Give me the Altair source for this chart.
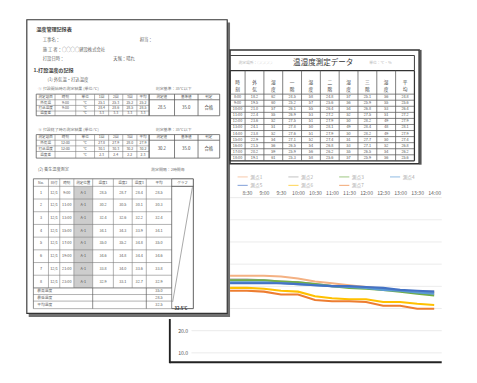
import altair as alt
import pandas as pd

FONT = "Noto Sans CJK JP"

# ====================== DATA ======================
# --- front sheet: temperature chart ---
hours = [7.0, 7.5, 8.0, 8.5, 9.0, 9.5, 10.0, 10.5, 11.0, 11.5, 12.0, 12.5, 13.0, 13.5, 14.0]
x_tick_labels = ["7:00", "7:30", "8:00", "8:30", "9:00", "9:30", "10:00", "10:30",
                 "11:00", "11:30", "12:00", "12:30", "13:00", "13:30", "14:00"]
y_tick_values = [10, 20, 30, 40, 50, 60, 70, 80]
series_names = ["測点1", "測点2", "測点3", "測点4", "測点5", "測点6", "測点7"]
series_colors = ["#F4B183", "#A5A5A5", "#70AD47", "#5B9BD5", "#4472C4", "#FFC000", "#ED7D31"]
temp_p1 = [44.8, 44.8, 44.8, 44.8, 44.8, 44.4, 43.5, 42.2, 41.4, 40.5, 39.7, 38.9, 38.0, 37.2, 36.7]
temp_p2 = [43.1, 43.1, 43.1, 43.1, 42.7, 42.2, 41.8, 41.0, 40.1, 39.7, 39.3, 38.9, 38.0, 37.6, 37.6]
temp_p3 = [42.7, 42.7, 42.7, 42.7, 42.7, 42.2, 41.8, 41.0, 40.1, 39.3, 38.9, 38.4, 37.6, 36.7, 35.9]
temp_p4 = [41.8, 41.8, 41.8, 41.8, 41.8, 41.4, 41.0, 40.5, 40.1, 39.7, 39.3, 38.4, 38.0, 37.2, 36.7]
temp_p5 = [41.4, 41.4, 41.4, 41.4, 41.4, 41.4, 41.0, 40.5, 40.1, 40.1, 39.7, 39.3, 38.4, 38.0, 37.6]
temp_p6 = [39.3, 39.3, 39.3, 39.3, 38.9, 38.0, 37.6, 35.5, 34.6, 34.2, 34.2, 32.9, 32.9, 32.1, 31.6]
temp_p7 = [38.0, 38.0, 38.0, 38.0, 37.6, 36.3, 36.3, 33.8, 33.3, 33.3, 32.9, 31.2, 31.2, 29.9, 29.9]

# --- back sheet: measurement table ---
table_title = "温湿度測定データ"
table_columns = ["時刻", "外気", "湿度", "一階", "湿度", "二階", "湿度", "三階", "湿度", "平均"]
table_times = ["8:00", "9:00", "10:00", "11:00", "12:00", "13:00", "14:00", "15:00", "16:00", "17:00", "18:00"]
table_values = [
    [18.2, 62, 24.5, 58, 24.8, 57, 25.1, 56, 24.8],
    [19.5, 60, 25.2, 57, 25.6, 56, 25.9, 55, 25.6],
    [21.0, 57, 26.1, 55, 26.4, 54, 26.8, 53, 26.4],
    [22.4, 55, 26.9, 53, 27.2, 52, 27.5, 51, 27.2],
    [23.6, 52, 27.5, 51, 27.9, 50, 28.2, 49, 27.9],
    [24.1, 51, 27.8, 50, 28.1, 49, 28.4, 48, 28.1],
    [23.8, 52, 27.6, 51, 27.9, 50, 28.2, 49, 27.9],
    [22.9, 54, 27.1, 52, 27.4, 51, 27.7, 50, 27.4],
    [21.5, 56, 26.5, 54, 26.8, 53, 27.1, 52, 26.8],
    [20.2, 59, 25.9, 56, 26.2, 55, 26.5, 54, 26.2],
    [19.1, 61, 25.3, 58, 25.6, 57, 25.9, 56, 25.6],
]

# --- left sheet: record form ---
form_title = "温度管理記録表"
form_section = "1.打設温度の記録"
t1_header = ["測定項目", "時刻", "単位", "1回", "2回", "3回", "平均"]
t1_rows = [["外気温", "9:00", "℃", "25.1", "25.3", "25.2", "25.2"],
           ["打込温度", "9:00", "℃", "28.4", "28.6", "28.5", "28.5"],
           ["温度差", "", "℃", "3.3", "3.3", "3.3", "3.3"]]
t2_rows = [["外気温", "12:00", "℃", "27.8", "27.9", "28.0", "27.9"],
           ["打込温度", "12:00", "℃", "30.1", "30.3", "30.2", "30.2"],
           ["温度差", "", "℃", "2.3", "2.4", "2.2", "2.3"]]
box_header = ["測定値", "基準値", "判定"]
t1_result = ["28.5", "35.0", "合格"]
t2_result = ["30.2", "35.0", "合格"]
t3_header = ["No.", "日付", "時刻", "測定位置", "温度1", "温度2", "温度3", "平均", "グラフ"]
t3_rows = [["1", "12/1", "9:00", "A-1", "28.5", "28.7", "28.4", "28.5"],
           ["2", "12/1", "11:00", "A-1", "30.2", "30.5", "30.1", "30.3"],
           ["3", "12/1", "13:00", "A-1", "32.4", "32.6", "32.2", "32.4"],
           ["4", "12/1", "15:00", "A-1", "34.1", "34.3", "33.9", "34.1"],
           ["5", "12/1", "17:00", "A-1", "35.0", "35.2", "34.8", "35.0"],
           ["6", "12/1", "19:00", "A-1", "34.6", "34.8", "34.4", "34.6"],
           ["7", "12/1", "21:00", "A-1", "33.8", "34.0", "33.6", "33.8"],
           ["8", "12/1", "23:00", "A-1", "32.9", "33.1", "32.7", "32.9"]]
t3_summary = [["最高温度", "35.0"], ["最低温度", "28.5"], ["平均温度", "32.5"]]


# ====================== HELPERS ======================
def centers(edges):
    return [(a + b) / 2 for a, b in zip(edges[:-1], edges[1:])]


def grid_rows(xe, ye, w=0.6, c="#6e6e6e", ow=None, oc=None):
    ow = w if ow is None else ow
    oc = c if oc is None else oc
    rows = []
    for i, y in enumerate(ye):
        e = i in (0, len(ye) - 1)
        rows.append((xe[0], y, xe[-1], y, ow if e else w, oc if e else c))
    for j, x in enumerate(xe):
        e = j in (0, len(xe) - 1)
        rows.append((x, ye[0], x, ye[-1], ow if e else w, oc if e else c))
    return rows


def sheet(W, H, rects, rules, texts):
    sx = alt.Scale(domain=[0, W], range=[0, W], nice=False, zero=False)
    sy = alt.Scale(domain=[0, H], range=[0, H], nice=False, zero=False)
    layers = []
    rdf = pd.DataFrame(rects, columns=["x", "y", "x2", "y2", "f", "sc", "sw"])
    layers.append(alt.Chart(rdf).mark_rect().encode(
        x=alt.X("x:Q", scale=sx, axis=None), x2="x2:Q",
        y=alt.Y("y:Q", scale=sy, axis=None), y2="y2:Q",
        fill=alt.Fill("f:N", scale=None),
        stroke=alt.Stroke("sc:N", scale=None),
        strokeWidth=alt.StrokeWidth("sw:Q", scale=None)))
    ldf = pd.DataFrame(rules, columns=["x", "y", "x2", "y2", "w", "c"])
    layers.append(alt.Chart(ldf).mark_rule().encode(
        x=alt.X("x:Q", scale=sx, axis=None), x2="x2:Q",
        y=alt.Y("y:Q", scale=sy, axis=None), y2="y2:Q",
        strokeWidth=alt.StrokeWidth("w:Q", scale=None),
        color=alt.Color("c:N", scale=None)))
    for rows, align, weight, lb in texts:
        tdf = pd.DataFrame([r for r in rows if r[2] != ""], columns=["x", "y", "t", "s", "c"])
        mk = dict(align=align, baseline="middle", fontWeight=weight, font=FONT)
        if lb:
            mk["lineBreak"] = "\n"
        layers.append(alt.Chart(tdf).mark_text(**mk).encode(
            x=alt.X("x:Q", scale=sx, axis=None),
            y=alt.Y("y:Q", scale=sy, axis=None),
            text="t:N",
            size=alt.Size("s:Q", scale=None),
            color=alt.Color("c:N", scale=None)))
    return alt.layer(*layers).properties(width=W, height=H)


# ====================== LEFT SHEET (form) ======================
W1, H1 = 219, 317
d1_rects = [(5, 3, 219, 316, "#707070", "#707070", 0),
            (3, 0, 216, 312, "#ffffff", "#333333", 1.2),
            (53, 177, 73, 285, "#cdcdcd", "#cdcdcd", 0)]
t1_xe = [13, 33, 55, 75, 90, 105, 120, 133]
t1_ye = [79, 85, 91, 97, 102]
t2_ye = [122, 128, 134, 140, 147]
box_xe = [133, 160, 185, 208]
t3_xe = [10, 26, 38, 53, 73, 95, 115, 130, 157]
t3_ye = [169, 177] + [177 + 13.5 * k for k in range(1, 9)]
sum_ye = [285, 292, 299, 307]

d1_rules = []
for ye in (t1_ye, t2_ye):
    d1_rules += grid_rows(t1_xe, ye, w=0.6, c="#7a7a7a", ow=0.8, oc="#555")
    for x in box_xe:
        d1_rules.append((x, ye[0], x, ye[-1], 0.8, "#555"))
    for y in (ye[0], ye[1], ye[-1]):
        d1_rules.append((box_xe[0], y, box_xe[-1], y, 0.8, "#555"))
d1_rules += grid_rows(t3_xe, t3_ye, w=0.6, c="#7a7a7a", ow=0.8, oc="#555")
for y in sum_ye[1:]:
    d1_rules.append((t3_xe[0], y, t3_xe[-1], y, 0.6, "#7a7a7a"))
for x in (t3_xe[0], t3_xe[4], t3_xe[7], t3_xe[8]):
    d1_rules.append((x, sum_ye[0], x, sum_ye[-1], 0.7, "#555"))
d1_rules.append((180, 169, 180, 307, 0.9, "#444"))
for y in (169, 177, 307):
    d1_rules.append((157, y, 180, y, 0.9, "#444"))
d1_rules.append((158, 300, 179, 178, 0.6, "#666"))

plain = []
plain += [(20, 22, "工事名：", 4.6, "#666"), (123, 22, "担当：", 4.6, "#666"),
          (20, 32, "施 工 者：○○○○建設株式会社", 4.6, "#666"),
          (20, 42, "打設日時：", 4.6, "#666"), (95, 42, "天候：晴れ", 4.6, "#666"),
          (25, 64, "(1) 外気温・打込温度", 4.6, "#666"),
          (15, 74, "① 打設開始時の測定結果 (単位:℃)", 4.2, "#777"), (140, 74, "判定基準：35℃以下", 4.2, "#777"),
          (15, 117, "② 打設終了時の測定結果 (単位:℃)", 4.2, "#777"), (140, 117, "判定基準：35℃以下", 4.2, "#777"),
          (15, 160, "(2) 養生温度測定", 4.4, "#666"), (135, 160, "測定間隔：2時間毎", 4.2, "#777")]
for (lab, val), yc in zip(t3_summary, centers(sum_ye)):
    plain.append((14, yc, lab, 4.0, "#666"))
bold = [(13, 10, form_title, 5.4, "#444"), (10, 54, form_section, 5.4, "#444"),
        (160, 307, "32.5℃", 4.4, "#333")]
cent = []
c1 = centers(t1_xe)
cb = centers(box_xe)
for ye, rows, res in ((t1_ye, t1_rows, t1_result), (t2_ye, t2_rows, t2_result)):
    rc = centers(ye)
    for x, t in zip(c1, t1_header):
        cent.append((x, rc[0], t, 3.8, "#555"))
    for r, yc in zip(rows, rc[1:]):
        for x, t in zip(c1, r):
            cent.append((x, yc, t, 3.8, "#555"))
    for x, t in zip(cb, box_header):
        cent.append((x, rc[0], t, 3.8, "#555"))
    for x, t in zip(cb, res):
        cent.append((x, (ye[1] + ye[-1]) / 2, t, 4.6, "#444"))
c3 = centers(t3_xe + [180])
for x, t in zip(c3, t3_header):
    cent.append((x, 173, t, 3.8, "#555"))
for r, yc in zip(t3_rows, centers(t3_ye[1:])):
    for x, t in zip(c3, r):
        cent.append((x, yc, t, 4.0, "#555"))
for (lab, val), yc in zip(t3_summary, centers(sum_ye)):
    cent.append((c3[7], yc, val, 4.0, "#555"))

doc1 = sheet(W1, H1, d1_rects, d1_rules,
             [(plain, "left", "normal", False), (bold, "left", "bold", False),
              (cent, "center", "normal", False)])

# ====================== BACK SHEET (table) ======================
W2, H2 = 204, 155
d2_rects = [(0, 32, 201, 153, "#ffffff", "#333333", 1.6)]
xe2 = [0, 16, 36, 56, 76, 96, 116, 136, 156, 176, 196]
ye2 = [54, 79] + [79 + 6.45 * k for k in range(1, 12)]
d2_rules = [(0, 38, 196, 38, 1.1, "#444"), (196, 38, 196, 54, 1.1, "#444"),
            (202.5, 32, 202.5, 154, 2.2, "#555")]
d2_rules += grid_rows(xe2, ye2, w=0.8, c="#555", ow=1.3, oc="#333")
d2_title = [(99, 46, table_title, 8, "#333")]
d2_faint = [(9, 46, "測定場所：○○○○", 4, "#b8b8b8"), (148, 46, "単位：℃・％", 4, "#b8b8b8")]
cx2 = centers(xe2)
d2_head = [(x, 66.5, "\n".join(list(t)), 5, "#444") for x, t in zip(cx2, table_columns)]
d2_cells = []
for k, (tm, vals) in enumerate(zip(table_times, table_values)):
    yc = 79 + 6.45 * (k + 0.5)
    cells = [tm] + [str(v) for v in vals]
    for x, t in zip(cx2, cells):
        d2_cells.append((x, yc, t, 4.0, "#555"))
doc2 = sheet(W2, H2, d2_rects, d2_rules,
             [(d2_title + d2_cells, "center", "normal", False), (d2_faint, "left", "normal", False),
              (d2_head, "center", "normal", True)])

# ====================== FRONT SHEET (line chart) ======================
W3, H3 = 225, 208
series_data = [temp_p1, temp_p2, temp_p3, temp_p4, temp_p5, temp_p6, temp_p7]
line_rows = []
for name, vals in zip(series_names, series_data):
    for h, v in zip(hours, vals):
        line_rows.append({"series": name, "hour": h, "value": v})
lines_df = pd.DataFrame(line_rows)

xs = alt.Scale(domain=[7, 14], range=[-36.3, 217], nice=False, zero=False)
ys = alt.Scale(domain=[10, 80], range=[197, 32], nice=False, zero=False)
labels_js = "[" + ",".join("'%s'" % t for t in x_tick_labels) + "]"
x_axis = alt.Axis(orient="top", values=hours[3:], labelExpr=labels_js + "[round((datum.value - 7) * 2)]",
                  offset=-31, domain=False, ticks=False, grid=False, labelFontSize=5.5,
                  labelColor="#666", labelPadding=1, title=None, labelOverlap=False, labelFlush=False)
y_axis = alt.Axis(orient="left", values=y_tick_values[:2], format=".1f", offset=43, domain=False,
                  ticks=False, grid=False, labelFontSize=5.5, labelColor="#555", labelPadding=2,
                  title=None)

grid_low = alt.Chart(pd.DataFrame({"v": y_tick_values[:2]})).mark_rule(color="#dcdcdc", strokeWidth=0.6).encode(
    y=alt.Y("v:Q", scale=ys, axis=None), x=alt.value(-41), x2=alt.value(W3))
grid_high = alt.Chart(pd.DataFrame({"v": y_tick_values[2:]})).mark_rule(color="#dcdcdc", strokeWidth=0.6).encode(
    y=alt.Y("v:Q", scale=ys, axis=None), x=alt.value(0), x2=alt.value(W3))
lines3 = alt.Chart(lines_df).mark_line(strokeWidth=2.2, clip=True).encode(
    x=alt.X("hour:Q", scale=xs, axis=x_axis),
    y=alt.Y("value:Q", scale=ys, axis=y_axis),
    color=alt.Color("series:N", scale=alt.Scale(domain=series_names, range=series_colors), legend=None),
    detail="series:N")

# faint key at the top of the sheet (two rows of four)
key_df = pd.DataFrame({"series": series_names, "color": series_colors})
key_df["col"] = [i % 4 for i in range(len(series_names))]
key_df["row"] = [i // 4 for i in range(len(series_names))]
key_df["col_end"] = key_df["col"] + 0.2
key_df["col_text"] = key_df["col"] + 0.25
kx = alt.Scale(domain=[0, 4], range=[8, 224], nice=False, zero=False)
ky = alt.Scale(domain=[0, 1], range=[10, 19], nice=False, zero=False)
key_line = alt.Chart(key_df).mark_rule(strokeWidth=1.2, opacity=0.6).encode(
    x=alt.X("col:Q", scale=kx, axis=None), x2="col_end:Q",
    y=alt.Y("row:Q", scale=ky, axis=None), color=alt.Color("color:N", scale=None))
key_text = alt.Chart(key_df).mark_text(align="left", baseline="middle", fontSize=5, color="#aaa").encode(
    x=alt.X("col_text:Q", scale=kx, axis=None), y=alt.Y("row:Q", scale=ky, axis=None), text="series:N")

one = pd.DataFrame({"a": [0]})
left_border = alt.Chart(one).mark_rule(color="#222", strokeWidth=2).encode(
    x=alt.value(-64), y=alt.value(161), y2=alt.value(H3))
bottom_border = alt.Chart(one).mark_rule(color="#222", strokeWidth=2).encode(
    x=alt.value(-64), x2=alt.value(W3), y=alt.value(H3 - 1))
doc3 = alt.layer(grid_low, grid_high, lines3, key_line, key_text, left_border, bottom_border).resolve_scale(
    x="independent", y="independent").properties(width=W3, height=H3)

# ====================== COMPOSE ======================
right_col = alt.vconcat(doc2, doc3, spacing=2, bounds="flush")
chart = alt.hconcat(doc1, right_col, spacing=0, bounds="flush").properties(
    padding={"left": 17, "top": 0, "right": 0, "bottom": 0},
    background="white",
).configure(font=FONT).configure_view(strokeWidth=0).configure_concat(spacing=0)

chart.save("out.html", embed_options={"renderer": "svg", "actions": False})
